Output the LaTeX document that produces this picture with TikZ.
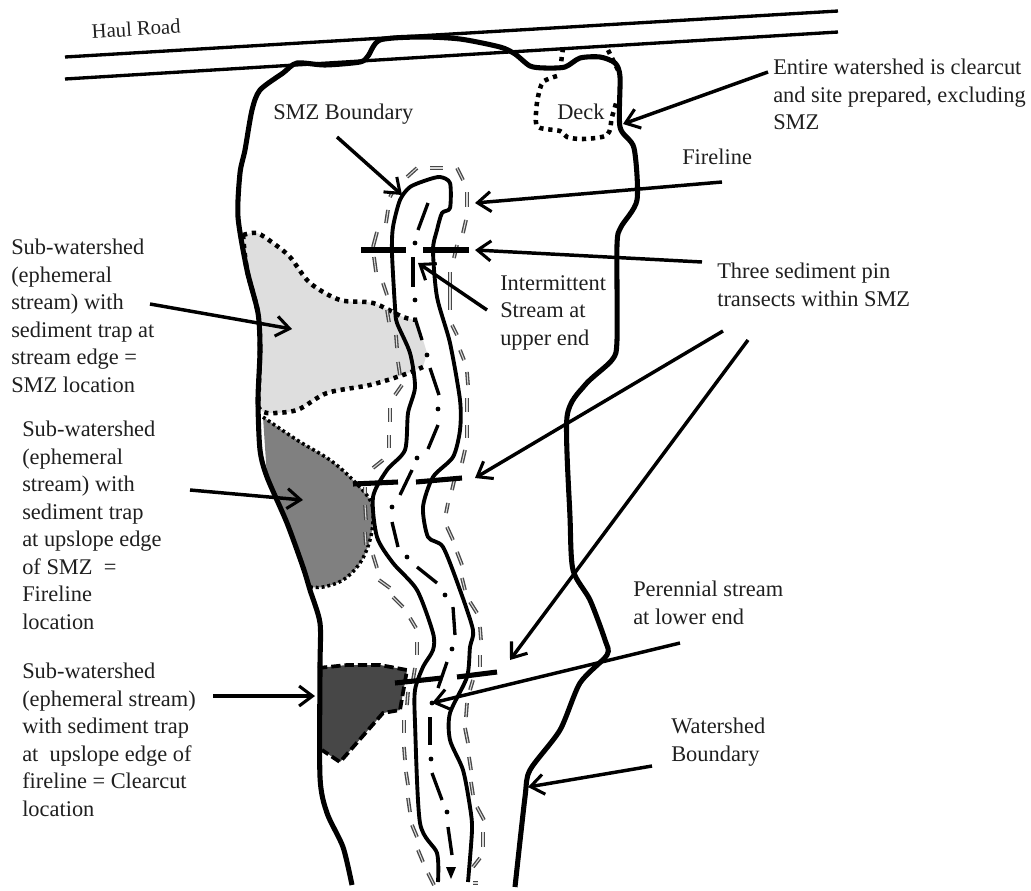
\documentclass[tikz,border=0pt]{standalone}
\usepackage{fontspec}
\setmainfont{Liberation Serif}
\usetikzlibrary{arrows.meta}
\tikzset{
  lab/.style={anchor=north west,inner sep=0pt,align=left,text=black!88,font=\fontsize{16.8}{20.6}\selectfont},
  pointer/.style={line width=2.6pt,-{Straight Barb[length=10pt,width=15pt,line width=2.3pt]}},
  road/.style={line width=2.5pt},
  wshed/.style={line width=3.8pt,line join=round},
  fline/.style={line width=2.9pt,line join=round},
  smzdash/.style={draw=black!72,double=white!85!black,double distance=0.8pt,line width=1pt},
  stream/.style={line width=2.5pt},
  bigdots/.style={line width=3.4pt,dash pattern=on 3.2pt off 3.6pt},
  finedots/.style={line width=2.6pt,dash pattern=on 2.2pt off 2.2pt},
  bardash/.style={line width=2.8pt,dash pattern=on 7pt off 3pt},
  transect/.style={line width=3.8pt}
}
\begin{document}
\begin{tikzpicture}[x=0.75pt,y=-0.75pt]
    \useasboundingbox (0,0) rectangle (1031,890);

    % shaded sub-watersheds
    \fill[black!13] plot[smooth,tension=0.5] coordinates {(243,235) (257,233) (273,243) (290,257) (310,283) (340,300) (373,303) (403,317) (417,320)} -- (427,353) -- (423,367)
      -- plot[smooth,tension=0.5] coordinates {(403,375) (370,385) (327,393) (297,410) (267,413) (258,407)} -- (260,350) -- (258,313) -- (247,270) -- cycle;
    \fill[black!50] plot[smooth,tension=0.6] coordinates {(263,417) (297,440) (330,460) (353,480) (370,500) (373,517) (370,540) (360,563) (343,580) (323,587) (310,587)} -- (287,523) -- (267,477) -- cycle;
    \fill[black!72] (318,668) -- (347,665) -- (380,665) -- (407,670) -- (400,710) -- (383,713) -- (340,762) -- (322,750) -- cycle;

    \draw[bigdots] plot[smooth,tension=0.5] coordinates {(243,235) (257,233) (273,243) (290,257) (310,283) (340,300) (373,303) (403,317) (417,320)};
    \draw[bigdots] plot[smooth,tension=0.5] coordinates {(423,367) (403,375) (370,385) (327,393) (297,410) (267,413) (258,407)};
    \draw[bigdots] plot[smooth,tension=0.5] coordinates {(243,235) (247,270) (258,313) (260,350) (258,407)};
    \draw[finedots] plot[smooth,tension=0.6] coordinates {(263,417) (297,440) (330,460) (353,480) (370,500) (373,517) (370,540) (360,563) (343,580) (323,587) (310,587)};
    \draw[finedots] (310,587) -- (287,523) -- (267,477);
    \draw[bardash] (318,668) -- (347,665) -- (380,665) -- (407,670) -- (400,710) -- (383,713) -- (340,762) -- (322,750);

    % deck
    \draw[bigdots] (563,48) -- (561,63);
    \draw[bigdots] (608,50) -- (618,70);
    \draw[bigdots] plot[smooth,tension=0.5] coordinates {(557,76) (543,82) (538,97) (536,113) (538,127) (560,131) (567,137) (583,139) (607,135) (612,117) (617,100)};

    % haul road
    \draw[road] (65,57) -- (838,11);
    \draw[road] (65,79) -- (838,32);

    % watershed boundary
    \draw[wshed] plot[smooth,tension=0.45] coordinates {(352,885) (343,847) (327,813) (320,777) (320,667) (320,623) (310,590) (303,567) (287,523) (267,477) (260,450) (258,400) (260,350) (258,313) (247,270) (238,217) (240,173) (245,150) (252,110) (260,90) (283,73) (297,63) (325,65) (360,62) (368,56) (380,40) (420,37) (460,39) (500,47) (515,54) (530,66) (545,68) (565,67) (580,58) (600,57) (615,63) (620,77) (620,127) (634,148) (637,200) (621,227) (617,245) (617,340) (612,360) (585,385) (567,417) (570,517) (573,570) (590,600) (605,640) (607,655) (580,683) (560,730) (530,770) (525,797) (515,887)};

    % fireline on both sides of stream
    \draw[fline] plot[smooth,tension=0.45] coordinates {(438,882) (437,853) (420,823) (415,723) (415,690) (423,667) (433,650) (433,633) (417,590) (393,563) (377,537) (373,497) (387,470) (405,450) (408,413) (415,387) (410,353) (397,323) (395,307) (392,253) (393,227) (400,200) (410,187) (427,180) (440,177) (450,183) (450,208) (442,213) (437,230) (433,250) (437,297) (450,343) (460,400) (460,430) (453,457) (433,477) (423,507) (428,537) (443,547) (460,590) (473,630) (470,647) (467,677) (450,713) (450,740) (463,770) (470,807) (472,830) (468,882)};

    % SMZ boundary pieces
    \foreach \xa/\ya/\xb/\yb in {407/177/417/168,430/168/443/168,457/168/463/180,467/192/467/207,466/220/463/233,457/245/454/258,450/272/450/310,452/325/457/335,460/350/464/360,467/372/468/385,467/398/467/412,467/425/467/438,465/450/462/463,455/477/452/490,448/503/446/513,447/527/453/540,457/552/462/565,462/578/465/590,470/602/477/613,480/627/481/640,480/655/480/667,473/680/470/690,467/703/466/717,465/728/468/743,469/757/471/770,471/782/473/795,477/807/484/820,483/832/483/847,480/858/473/867,473/883/478/883,
      390/197/392/193,388/210/386/223,377/232/373/247,374/257/376/272,383/283/387/295,387/310/389/322,396/335/397/348,398/362/400/375,402/385/395/395,390/408/390/422,389/435/389/448,383/460/373/468,365/487/365/493,365/505/366/520,365/532/366/545,373/555/377/568,379/580/390/588,393/597/403/607,410/618/416/628,417/642/417/655,415/668/413/680,408/692/407/705,404/720/404/733,404/747/405/760,406/772/408/785,408/798/410/812,412/825/417/837,418/850/423/862,428/873/434/885}
      \draw[smzdash] (\xa,\ya) -- (\xb,\yb);

    % stream
    \foreach \xa/\ya/\xb/\yb in {428/203/418/230,413/257/413/287,415/318/422/340,430/368/439/395,438/425/428/449,412/470/400/495,392/522/398/547,417/567/437/583,453/607/455/635,447/662/438/688,430/717/430/745,432/773/442/800,448/827/452/855}
      \draw[stream] (\xa,\ya) -- (\xb,\yb);
    \foreach \xa/\ya in {415/243,415/300,427/355,438/409,417/458,392/507,407/557,445/595,452/649,432/703,431/759,447/812}
      \fill (\xa,\ya) circle (1.8pt);
    \fill (446,867) -- (456,867) -- (451,879) -- cycle;

    % transects
    \draw[transect] (361,250) -- (406,250);
    \draw[transect] (423,250) -- (469,250);
    \draw[transect] (353,484) -- (398,482);
    \draw[transect] (416,482) -- (462,478);
    \draw[transect] (395,683) -- (442,678);
    \draw[transect] (457,677) -- (497,672);

    % labels
    \node[lab,font=\fontsize{15.5}{18}\selectfont,rotate=3.5] (haulroad) at (91,24) {Haul Road};
    \node[lab] (smzbound) at (273,104) {SMZ Boundary};
    \node[lab] (deck) at (557,104) {Deck};
    \node[lab] (clearcut) at (773,59) {Entire watershed is clearcut\\and site prepared, excluding\\SMZ};
    \node[lab] (fireline) at (682,149) {Fireline};
    \node[lab] (threepin) at (717,263) {Three sediment pin\\transects within SMZ};
    \node[lab] (intermit) at (500,275) {Intermittent\\Stream at\\upper end};
    \node[lab] (subone) at (11,239) {Sub-watershed\\(ephemeral\\stream) with\\sediment trap at\\stream edge =\\SMZ location};
    \node[lab] (subtwo) at (22,421) {Sub-watershed\\(ephemeral\\stream) with\\sediment trap\\at upslope edge\\of SMZ \ =\\Fireline\\location};
    \node[lab] (subthree) at (22,663) {Sub-watershed\\(ephemeral stream)\\with sediment trap\\at \ upslope edge of\\fireline = Clearcut\\location};
    \node[lab] (perennial) at (633,581) {Perennial stream\\at lower end};
    \node[lab] (wsbound) at (671,718) {Watershed\\Boundary};

    % arrow ends
    \coordinate (clearfrom) at (768,72);   \coordinate (clearto) at (623,124);
    \coordinate (smzfrom) at (337,137);    \coordinate (smzto) at (402,195);
    \coordinate (firefrom) at (722,182);   \coordinate (fireto) at (475,203);
    \coordinate (pinafrom) at (702,262);   \coordinate (pinato) at (475,250);
    \coordinate (pinbfrom) at (723,331);   \coordinate (pinbto) at (475,478);
    \coordinate (pincfrom) at (748,340);   \coordinate (pincto) at (510,660);
    \coordinate (interfrom) at (487,310);  \coordinate (interto) at (418,263);
    \coordinate (aonefrom) at (150,304);   \coordinate (aoneto) at (292,329);
    \coordinate (atwofrom) at (190,490);   \coordinate (atwoto) at (303,500);
    \coordinate (athreefrom) at (213,696); \coordinate (athreeto) at (315,696);
    \coordinate (perfrom) at (680,643);    \coordinate (perto) at (432,703);
    \coordinate (wsfrom) at (652,766);     \coordinate (wsto) at (528,787);

    \draw[pointer] (clearfrom) -- (clearto);
    \draw[pointer] (smzfrom) -- (smzto);
    \draw[pointer] (firefrom) -- (fireto);
    \draw[pointer] (pinafrom) -- (pinato);
    \draw[pointer] (pinbfrom) -- (pinbto);
    \draw[pointer] (pincfrom) -- (pincto);
    \draw[pointer] (interfrom) -- (interto);
    \draw[pointer] (aonefrom) -- (aoneto);
    \draw[pointer] (atwofrom) -- (atwoto);
    \draw[pointer] (athreefrom) -- (athreeto);
    \draw[pointer] (perfrom) -- (perto);
    \draw[pointer] (wsfrom) -- (wsto);
\end{tikzpicture}
\end{document}
